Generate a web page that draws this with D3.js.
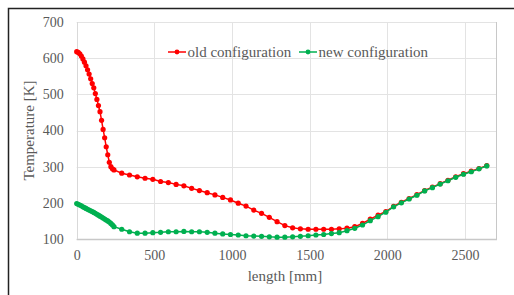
<!DOCTYPE html>
<html>
<head>
<meta charset="utf-8">
<script src="https://cdn.jsdelivr.net/npm/d3@7"></script>
<style>
  body { margin: 0; background: #fff; }
  text { font-family: "Liberation Serif", "DejaVu Serif", serif; fill: #595959; }
</style>
</head>
<body>
<div id="chart"></div>
<script>
// data
var denseLength = [0, 10, 20, 30, 40, 50, 60, 70, 80, 90, 100, 110, 120, 130, 140, 150, 160, 170, 180, 190, 200, 210, 220, 230];
var oldDense = [618, 616, 612, 606, 598, 589, 579, 568, 556, 543, 530, 518, 502, 486, 469, 452, 428, 403, 380, 355, 333, 312, 300, 294];
var newDense = [198, 196, 194, 192, 189, 187, 184.5, 182, 180, 178, 176, 173.5, 171, 168.5, 166, 163, 160.5, 158, 155, 152.5, 150, 147, 143, 139];

var mainLength = [240, 290, 340, 390, 440, 490, 540, 590, 640, 690, 740, 790, 840, 890, 940, 990,
  1040, 1090, 1140, 1190, 1240, 1290, 1340, 1390, 1440, 1490, 1540, 1590, 1640, 1690, 1740, 1790,
  1840, 1890, 1940, 1990, 2040, 2090, 2140, 2190, 2240, 2290, 2340, 2390, 2440, 2490, 2540, 2590, 2640];
var oldMain = [291, 282, 277, 272, 268, 265, 259, 256, 251, 247, 240, 234, 228, 222, 215, 208,
  199, 191, 180, 171, 160, 148, 137, 131, 128, 127, 127, 127, 127, 128, 130, 134,
  143, 155, 166, 176, 190, 201.5, 212, 222.5, 234, 243.5, 253, 262.5, 272, 280.5, 287.5, 295, 303];
var newMain = [134, 127, 120, 116, 116, 117.5, 118.5, 120, 120, 121, 120, 120, 118.5, 116, 114, 112.5,
  111, 109, 108, 107.5, 106, 105, 105, 106, 107.5, 109, 111, 112.5, 115, 117.5, 123, 129.6,
  138.7, 150.6, 161.7, 174, 189, 200, 210.6, 221, 233, 242, 252, 261, 270.6, 279, 286, 294, 302];

var xTicks = [0, 500, 1000, 1500, 2000, 2500];
var yTicks = [100, 200, 300, 400, 500, 600, 700];

var seriesNames = ["old configuration", "new configuration"];
var seriesColors = ["#ff0000", "#00b050"];

var lengths = denseLength.concat(mainLength);
var series = [oldDense.concat(oldMain), newDense.concat(newMain)];

var svgWidth = 514;
var svgHeight = 295;

var svg = d3.select("#chart")
  .append("svg")
  .attr("width", svgWidth)
  .attr("height", svgHeight);

// outer frame (runs off the right and bottom edges)
svg.append("path")
  .attr("d", "M8.5,300 L8.5,8.5 L520,8.5")
  .attr("fill", "none")
  .attr("stroke", "#222")
  .attr("stroke-width", 1.5);

var xScale = d3.scaleLinear().domain([0, 2700]).range([76.7, 496.1]);
var yScale = d3.scaleLinear().domain([100, 700]).range([239, 22]);

// gridlines
svg.append("g")
  .selectAll("line.h")
  .data(yTicks)
  .enter()
  .append("line")
  .attr("x1", xScale(0))
  .attr("x2", xScale(2700))
  .attr("y1", d => Math.round(yScale(d)) + 0.5)
  .attr("y2", d => Math.round(yScale(d)) + 0.5)
  .attr("stroke", "#e3e3e3");

svg.append("g")
  .selectAll("line.v")
  .data(xTicks)
  .enter()
  .append("line")
  .attr("x1", d => Math.round(xScale(d)) + 0.5)
  .attr("x2", d => Math.round(xScale(d)) + 0.5)
  .attr("y1", yScale(700))
  .attr("y2", yScale(100))
  .attr("stroke", "#e3e3e3");

// plot area border on the right and bottom axis line
svg.append("line")
  .attr("x1", Math.round(xScale(2700)) + 0.5)
  .attr("x2", Math.round(xScale(2700)) + 0.5)
  .attr("y1", yScale(700))
  .attr("y2", yScale(100))
  .attr("stroke", "#c8c8c8");

svg.append("line")
  .attr("x1", xScale(0))
  .attr("x2", Math.round(xScale(2700)) + 1)
  .attr("y1", Math.round(yScale(100)) + 0.5)
  .attr("y2", Math.round(yScale(100)) + 0.5)
  .attr("stroke", "#c8c8c8")
  .attr("stroke-width", 1.5);

svg.append("line")
  .attr("x1", Math.round(xScale(0)) + 0.5)
  .attr("x2", Math.round(xScale(0)) + 0.5)
  .attr("y1", yScale(700))
  .attr("y2", yScale(100))
  .attr("stroke", "#d9d9d9");

// axes with tick labels only
var bottomAxis = d3.axisBottom(xScale).tickValues(xTicks).tickFormat(d3.format("d")).tickSize(0).tickPadding(11);
var leftAxis = d3.axisLeft(yScale).tickValues(yTicks).tickFormat(d3.format("d")).tickSize(0).tickPadding(13);

var gx = svg.append("g")
  .attr("transform", `translate(0, ${yScale(100)})`)
  .call(bottomAxis);
var gy = svg.append("g")
  .attr("transform", `translate(${xScale(0)}, 0)`)
  .call(leftAxis);

[gx, gy].forEach(function(g) {
  g.attr("font-family", null).attr("font-size", null);
  g.select(".domain").remove();
  g.selectAll("text")
    .attr("fill", "#595959")
    .style("font-size", "14px");
});

// series
var line = d3.line()
  .x((d, i) => xScale(lengths[i]))
  .y(d => yScale(d));

series.forEach(function(values, s) {
  svg.append("path")
    .datum(values)
    .attr("d", line)
    .attr("fill", "none")
    .attr("stroke", seriesColors[s])
    .attr("stroke-width", 1.5);

  svg.append("g")
    .selectAll("circle")
    .data(values)
    .enter()
    .append("circle")
    .attr("cx", (d, i) => xScale(lengths[i]))
    .attr("cy", d => yScale(d))
    .attr("r", 2.6)
    .attr("fill", seriesColors[s]);
});

// legend
var legendX = [168, 299];
seriesNames.forEach(function(name, s) {
  var g = svg.append("g").attr("transform", `translate(${legendX[s]}, 52)`);
  g.append("line")
    .attr("x1", 0).attr("x2", 18)
    .attr("y1", 0).attr("y2", 0)
    .attr("stroke", seriesColors[s])
    .attr("stroke-width", 1.5);
  g.append("circle")
    .attr("cx", 9).attr("cy", 0).attr("r", 2.4)
    .attr("fill", seriesColors[s]);
  g.append("text")
    .attr("x", 19.5)
    .attr("y", 4.5)
    .style("font-size", "15px")
    .text(name);
});

// axis titles
svg.append("text")
  .attr("x", 285)
  .attr("y", 281)
  .attr("text-anchor", "middle")
  .style("font-size", "15px")
  .text("length [mm]");

svg.append("text")
  .attr("transform", `translate(34, ${(yScale(100) + yScale(700)) / 2}) rotate(-90)`)
  .attr("text-anchor", "middle")
  .style("font-size", "15px")
  .text("Temperature [K]");
</script>
</body>
</html>
